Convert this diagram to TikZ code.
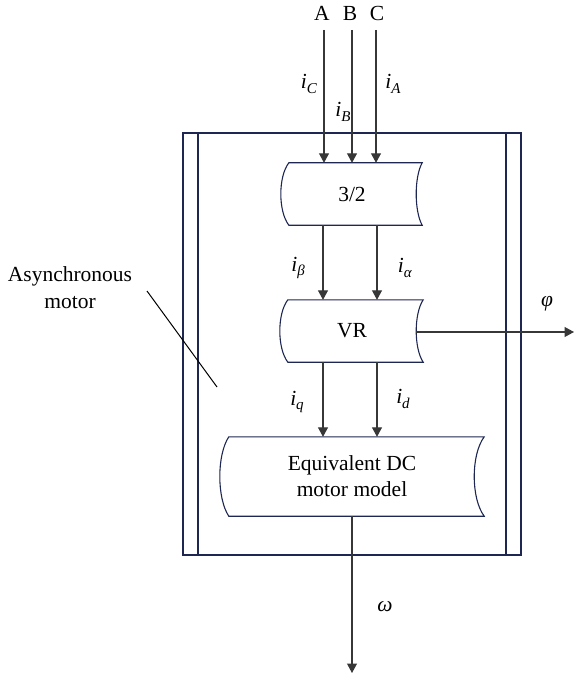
\documentclass[tikz,border=0pt]{standalone}
\usepackage{fontspec}
\setmainfont{Liberation Serif}
\usetikzlibrary{arrows.meta,calc}

\definecolor{navy}{RGB}{30,38,82}
\definecolor{wire}{RGB}{55,55,55}

% italic signal name with a lowered italic subscript
\newcommand\sig[2]{\textit{#1}\raisebox{-0.45ex}{\fontsize{15}{15}\selectfont\textit{#2}}}

% outline of a "stored data" block: left side bulges out, right side curves in
\newcommand\tapeoutline[4]{%
  \draw[boxline] (#1.north west) -- (#1.north east)
    .. controls ($(#1.north east)+({-1.333*#3},{#4})$) and ($(#1.south east)+({-1.333*#3},{-#4})$) .. (#1.south east)
    -- (#1.south west)
    .. controls ($(#1.south west)+({-1.333*#2},{-#4})$) and ($(#1.north west)+({-1.333*#2},{#4})$) .. (#1.north west) -- cycle;}

\tikzset{
  boxline/.style={draw=navy, line width=1.1pt},
  frame/.style={draw=navy, line width=1.2pt},
  block/.style={inner sep=0pt, align=center, font=\fontsize{21.5}{27}\selectfont},
  lab/.style={inner sep=2pt, font=\fontsize{21.5}{25}\selectfont},
  flow/.style={draw=wire, line width=1.2pt, -{Triangle[width=10pt,length=9.5pt]}},
  leader/.style={draw=black, line width=1pt},
}

\begin{document}
\begin{tikzpicture}[x=1pt,y=-1pt]
\useasboundingbox (0,0) rectangle (574,676);

% motor housing: outer frame and the two inner side lines
\draw[frame] (183,133) rectangle (521,555);
\draw[frame] (198,133) -- (198,555);
\draw[frame] (506,133) -- (506,555);

% blocks
\node[block, minimum width=133pt, minimum height=62pt] (cv) at (355.5,194) {\hspace*{-7pt}3/2};
\node[block, minimum width=135pt, minimum height=62pt] (vr) at (355.5,331) {\hspace*{-7pt}VR};
\node[block, minimum width=255pt, minimum height=79pt] (dc) at (356.5,476.5) {\hspace*{-9pt}Equivalent DC\\[-1pt]\hspace*{-9pt}motor model};
\tapeoutline{cv}{8}{6}{14}
\tapeoutline{vr}{8}{7}{14}
\tapeoutline{dc}{9}{10}{18}

% phase inputs
\node[lab] (A) at (322,13) {A};
\node[lab] (B) at (350,13) {B};
\node[lab] (C) at (377,13) {C};
\coordinate (xa) at (324,0);
\coordinate (xb) at (352,0);
\coordinate (xc) at (376,0);
\coordinate (top) at (0,30);
\draw[flow] (top -| xa) -- (cv.north -| xa);
\draw[flow] (top -| xb) -- (cv.north -| xb);
\draw[flow] (top -| xc) -- (cv.north -| xc);
\node[lab] (lC) at (309,84) {\sig{i}{C}};
\node[lab] (lB) at (343,112) {\sig{i}{B}};
\node[lab] (lA) at (393,84) {\sig{i}{A}};

% two-phase currents
\coordinate (xl) at (323,0);
\coordinate (xr) at (377,0);
\draw[flow] (cv.south -| xl) -- (vr.north -| xl);
\draw[flow] (cv.south -| xr) -- (vr.north -| xr);
\node[lab] (lbeta) at (298,268) {\sig{i}{β}};
\node[lab] (lalpha) at (405,268) {\sig{i}{α}};

% rotating frame currents
\draw[flow] (vr.south -| xl) -- (dc.north -| xl);
\draw[flow] (vr.south -| xr) -- (dc.north -| xr);
\node[lab] (lq) at (297,402) {\sig{i}{q}};
\node[lab] (ld) at (403,399) {\sig{i}{d}};

% flux angle output
\coordinate (phiend) at (574,332);
\draw[flow] ([xshift=-7pt]vr.east |- phiend) -- (phiend);
\node[lab] (lphi) at (547,304) {\textit{φ}};

% speed output
\coordinate (wend) at (352,673);
\draw[flow] (dc.south -| wend) -- (wend);
\node[lab] (lw) at (385,607) {\textit{ω}};

% motor annotation
\node[lab, align=center, font=\fontsize{21.5}{27}\selectfont] (mot) at (70,288) {Asynchronous\\motor};
\coordinate (l1) at (147,291);
\coordinate (l2) at (217,387);
\draw[leader] (l1) -- (l2);
\end{tikzpicture}
\end{document}
